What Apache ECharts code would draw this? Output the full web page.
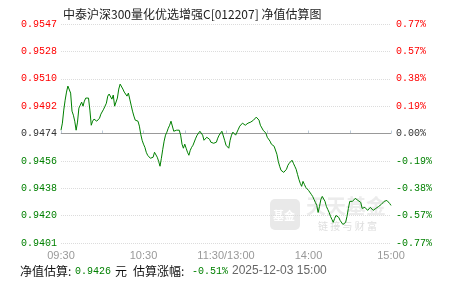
<!DOCTYPE html>
<html><head><meta charset="utf-8">
<script src="https://cdn.jsdelivr.net/npm/echarts@6/dist/echarts.min.js"></script>
<style>html,body{margin:0;padding:0;background:#fff}#c{width:451px;height:281px}</style>
</head><body><div id="c"></div>
<script>
const titleText = '中泰沪深300量化优选增强C[012207] 净值估算图';
const baseNav = 0.9474;
const navValues = [
0.94762,0.94809,0.94896,0.94962,0.95016,0.95056,0.95069,0.95009,0.94889,0.94862,
0.94822,0.94762,0.94816,0.94909,0.94929,0.94949,0.94922,0.94956,0.94976,0.94982,
0.94976,0.94896,0.94795,0.94822,0.94836,0.94829,0.94822,0.94829,0.94842,0.94869,
0.94882,0.94902,0.94922,0.94942,0.94989,0.95003,0.94996,0.94969,0.94996,0.94922,
0.94909,0.94976,0.95036,0.95069,0.95069,0.95036,0.95016,0.95003,0.94989,0.95009,
0.94969,0.94929,0.94889,0.94856,0.94829,0.94829,0.94822,0.94789,0.94735,0.94695,
0.94669,0.94648,0.94615,0.94595,0.94582,0.94575,0.94568,0.94582,0.94615,0.94602,
0.94582,0.94555,0.94522,0.94575,0.94635,0.94689,0.94729,0.94749,0.94775,0.94795,
0.94822,0.94809,0.94755,0.94755,0.94762,0.94755,0.94762,0.94729,0.94669,0.94642,
0.94669,0.94642,0.94615,0.94595,0.94628,0.94648,0.94662,0.94675,0.94709,0.94729,
0.94742,0.94755,0.94762,0.94729,0.94695,0.94702,0.94715,0.94715,0.94702,0.94682,
0.94682,0.94675,0.94662,0.94682,0.94709,0.94729,0.94742,0.94755,0.94742,0.94695,
0.94662,0.94669,0.94642,0.94695,0.94729,0.94749,0.94749,0.94729,0.94742,0.94769,
0.94789,0.94795,0.94809,0.94802,0.94795,0.94789,0.94809,0.94809,0.94816,0.94822,
0.94829,0.94842,0.94849,0.94842,0.94829,0.94795,0.94789,0.94762,0.94755,0.94742,
0.94715,0.94702,0.94689,0.94669,0.94662,0.94655,0.94642,0.94602,0.94555,0.94522,
0.94495,0.94488,0.94481,0.94488,0.94502,0.94528,0.94542,0.94555,0.94562,0.94542,
0.94522,0.94502,0.94468,0.94435,0.94408,0.94388,0.94421,0.94401,0.94381,0.94368,
0.94361,0.94348,0.94335,0.94321,0.94301,0.94281,0.94261,0.94214,0.94254,0.94301,
0.94321,0.94315,0.94288,0.94254,0.94234,0.94214,0.94188,0.94168,0.94148,0.94174,
0.94194,0.94194,0.94181,0.94161,0.94154,0.94134,0.94121,0.94148,0.94188,0.94241,
0.94288,0.94288,0.94288,0.94294,0.94308,0.94301,0.94294,0.94301,0.94281,0.94241,
0.94241,0.94248,0.94241,0.94228,0.94234,0.94248,0.94241,0.94228,0.94221,0.94241,
0.94248,0.94254,0.94261,0.94268,0.94281,0.94288,0.94294,0.94294,0.94288,0.94274,
0.94261
];
const leftLabels = ['0.9401','0.9420','0.9438','0.9456','0.9474','0.9492','0.9510','0.9528','0.9547'];
const rightLabels = ['-0.77%','-0.57%','-0.38%','-0.19%','0.00%','0.19%','0.38%','0.57%','0.77%'];
const pctMax = 0.77;
const pctStep = 0.1925;
const xTickLabels = {0:'09:30',60:'10:30',120:'11:30/13:00',180:'14:00',240:'15:00'};
const footNav = '0.9426';
const footPct = '-0.51%';
const footTime = '2025-12-03 15:00';

const times = [];
for (let i = 0; i <= 240; i++) {
  const t = i <= 120 ? 570 + i : 780 + (i - 120);
  times.push(String(Math.floor(t / 60)).padStart(2, '0') + ':' + String(t % 60).padStart(2, '0'));
}
const pctData = navValues.map(v => (v / baseNav - 1) * 100);

const GREEN = '#008000', RED = '#ff0000';
const mono = 'Liberation Mono';
const cjk = 'Noto Sans CJK SC';
function lblIdx(v) { return Math.round((v + pctMax) / pctStep); }
function richFor(lbls) {
  return function (v) {
    const i = lblIdx(v);
    const s = lbls[i];
    if (s === undefined) return '';
    return i < 4 ? '{g|' + s + '}' : (i > 4 ? '{r|' + s + '}' : '{b|' + s + '}');
  };
}
const labelRich = {
  g: { color: GREEN, fontFamily: mono, fontSize: 10 },
  r: { color: RED, fontFamily: mono, fontSize: 10 },
  b: { color: '#333', fontFamily: mono, fontSize: 10 }
};
function footText(x, text, fill, font, size) {
  return { type: 'text', x: x, y: 271, z: 10,
    style: { text: text, fill: fill, fontFamily: font, fontSize: size, textAlign: 'left', textVerticalAlign: 'middle', verticalAlign: 'middle' } };
}

const chart = echarts.init(document.getElementById('c'), null, { renderer: 'canvas' });
chart.setOption({
  animation: false,
  backgroundColor: '#fff',
  title: {
    text: titleText, left: 58, top: 3,
    textStyle: { fontSize: 12, fontWeight: 'normal', color: '#222', fontFamily: cjk }
  },
  grid: { left: 61, right: 60, top: 24, bottom: 38, containLabel: false },
  xAxis: {
    type: 'category', data: times, boundaryGap: false,
    axisLine: { lineStyle: { color: '#bccbd9', width: 1 } },
    axisTick: { inside: true, length: 3, interval: (i) => i % 30 === 0, lineStyle: { color: '#bccbd9' } },
    axisLabel: {
      interval: (i) => i % 60 === 0, margin: 7, color: '#999', fontSize: 11, fontFamily: 'Liberation Sans',
      formatter: (v, i) => xTickLabels[i] || '', showMaxLabel: true, showMinLabel: true
    },
    splitLine: { show: false }
  },
  yAxis: [
    {
      type: 'value', min: -pctMax, max: pctMax, interval: pctStep, position: 'left',
      axisLine: { show: false }, axisTick: { show: false },
      axisLabel: { margin: 4, formatter: richFor(leftLabels), rich: labelRich },
      splitLine: { show: true, lineStyle: { color: '#dcdcdc', type: [1, 1], width: 1 } }
    },
    {
      type: 'value', min: -pctMax, max: pctMax, interval: pctStep, position: 'right',
      axisLine: { show: false }, axisTick: { show: false },
      axisLabel: { margin: 5, formatter: richFor(rightLabels), rich: labelRich },
      splitLine: { show: false }
    }
  ],
  graphic: [
    { type: 'rect', left: 270, top: 199, z: 0, shape: { width: 30, height: 31, r: 5 }, style: { fill: '#e9e9e9' } },
    { type: 'text', left: 273, top: 210, z: 0, style: { text: '基金', fill: '#fff', fontSize: 11, fontWeight: 'bold', fontFamily: cjk } },
    { type: 'text', left: 306, top: 196, z: 0, style: { text: '天天基金', fill: '#ececec', fontSize: 20, fontWeight: 'bold', fontFamily: cjk } },
    { type: 'text', left: 318, top: 221, z: 0, style: { text: '链 接 与 财 富', fill: '#dedede', fontSize: 10, fontFamily: cjk } },
    footText(20, '净值估算:', '#111', cjk, 12),
    footText(75, footNav, GREEN, mono, 10),
    footText(115, '元', '#111', cjk, 12),
    footText(133, '估算涨幅:', '#111', cjk, 12),
    footText(192, footPct, GREEN, mono, 10),
    footText(232, footTime, '#666', 'Liberation Sans', 12)
  ],
  series: [{
    type: 'line', data: pctData, yAxisIndex: 0, showSymbol: false, symbol: 'none', z: 5,
    lineStyle: { color: GREEN, width: 1 },
    markLine: {
      silent: true, symbol: 'none', label: { show: false },
      lineStyle: { color: '#999', type: 'solid', width: 1 },
      data: [{ yAxis: 0 }]
    }
  }]
});
</script>
</body></html>
